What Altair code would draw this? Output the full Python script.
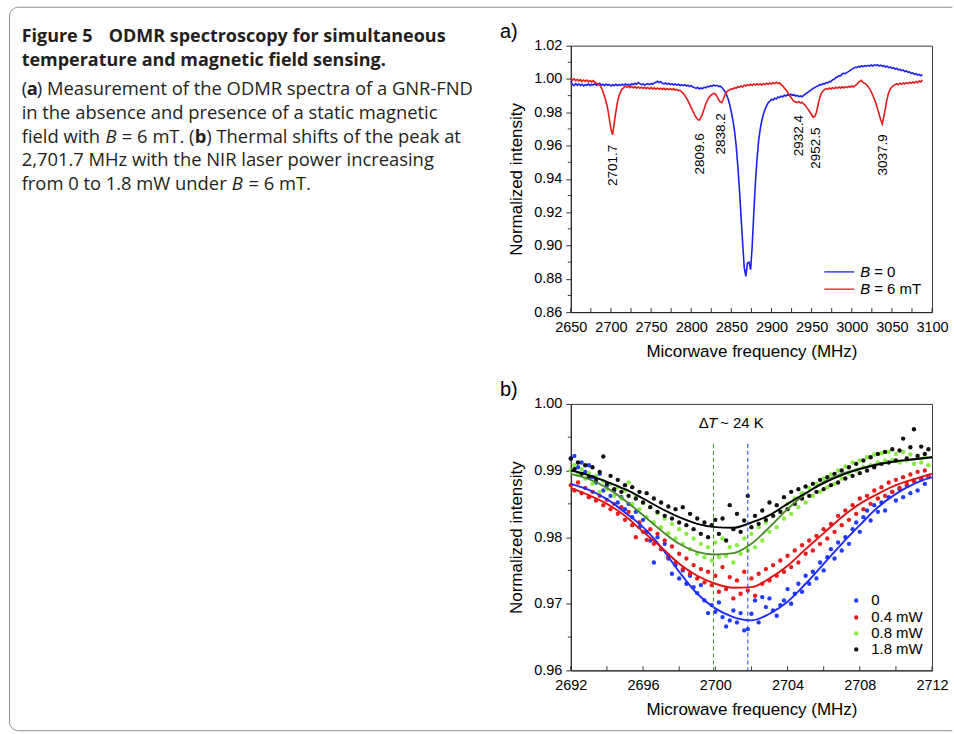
import altair as alt
import pandas as pd

# ---------------- panel a data ----------------
freq_a = [
    2650, 2652, 2654, 2656, 2658, 2660, 2662, 2664, 2666, 2668,
    2670, 2672, 2674, 2676, 2678, 2680, 2682, 2684, 2686, 2688,
    2690, 2692, 2694, 2696, 2698, 2700, 2702, 2704, 2706, 2708,
    2710, 2712, 2714, 2716, 2718, 2720, 2722, 2724, 2726, 2728,
    2730, 2732, 2734, 2736, 2738, 2740, 2742, 2744, 2746, 2748,
    2750, 2752, 2754, 2756, 2758, 2760, 2762, 2764, 2766, 2768,
    2770, 2772, 2774, 2776, 2778, 2780, 2782, 2784, 2786, 2788,
    2790, 2792, 2794, 2796, 2798, 2800, 2802, 2804, 2806, 2808,
    2810, 2812, 2814, 2816, 2818, 2820, 2822, 2824, 2826, 2828,
    2830, 2832, 2834, 2836, 2838, 2840, 2842, 2844, 2846, 2848,
    2850, 2852, 2854, 2856, 2858, 2860, 2862, 2864, 2866, 2868,
    2870, 2872, 2874, 2876, 2878, 2880, 2882, 2884, 2886, 2888,
    2890, 2892, 2894, 2896, 2898, 2900, 2902, 2904, 2906, 2908,
    2910, 2912, 2914, 2916, 2918, 2920, 2922, 2924, 2926, 2928,
    2930, 2932, 2934, 2936, 2938, 2940, 2942, 2944, 2946, 2948,
    2950, 2952, 2954, 2956, 2958, 2960, 2962, 2964, 2966, 2968,
    2970, 2972, 2974, 2976, 2978, 2980, 2982, 2984, 2986, 2988,
    2990, 2992, 2994, 2996, 2998, 3000, 3002, 3004, 3006, 3008,
    3010, 3012, 3014, 3016, 3018, 3020, 3022, 3024, 3026, 3028,
    3030, 3032, 3034, 3036, 3038, 3040, 3042, 3044, 3046, 3048,
    3050, 3052, 3054, 3056, 3058, 3060, 3062, 3064, 3066, 3068,
    3070, 3072, 3074, 3076, 3078, 3080, 3082, 3084, 3086, 3088,
]
b_zero = [
    0.9985, 0.9968, 0.9960, 0.9972, 0.9963, 0.9970, 0.9961, 0.9968, 0.9958, 0.9966,
    0.9962, 0.9971, 0.9960, 0.9968, 0.9963, 0.9972, 0.9962, 0.9966, 0.9974, 0.9963,
    0.9968, 0.9960, 0.9970, 0.9962, 0.9967, 0.9958, 0.9965, 0.9960, 0.9968, 0.9961,
    0.9966, 0.9962, 0.9969, 0.9963, 0.9970, 0.9964, 0.9968, 0.9962, 0.9971, 0.9966,
    0.9974, 0.9968, 0.9978, 0.9972, 0.9966, 0.9970, 0.9963, 0.9968, 0.9972, 0.9966,
    0.9973, 0.9968, 0.9976, 0.9980, 0.9986, 0.9978, 0.9984, 0.9974, 0.9970, 0.9976,
    0.9968, 0.9974, 0.9966, 0.9972, 0.9964, 0.9970, 0.9963, 0.9968, 0.9961, 0.9966,
    0.9960, 0.9965, 0.9958, 0.9963, 0.9955, 0.9960, 0.9952, 0.9948, 0.9944, 0.9950,
    0.9940, 0.9946, 0.9942, 0.9950, 0.9947, 0.9955, 0.9952, 0.9960, 0.9956, 0.9964,
    0.9958, 0.9962, 0.9955, 0.9957, 0.9950, 0.9938, 0.9925, 0.9905, 0.9880, 0.9845,
    0.9800, 0.9750, 0.9685, 0.9600, 0.9480, 0.9340, 0.9180, 0.9020, 0.8870, 0.8815,
    0.8895, 0.8900, 0.8855, 0.9000, 0.9200, 0.9380, 0.9520, 0.9630, 0.9700, 0.9752,
    0.9790, 0.9818, 0.9840, 0.9858, 0.9866, 0.9878, 0.9874, 0.9885, 0.9880, 0.9892,
    0.9888, 0.9897, 0.9893, 0.9902, 0.9898, 0.9906, 0.9901, 0.9908, 0.9902, 0.9906,
    0.9898, 0.9902, 0.9894, 0.9898, 0.9893, 0.9902, 0.9908, 0.9916, 0.9922, 0.9930,
    0.9936, 0.9944, 0.9948, 0.9955, 0.9958, 0.9966, 0.9964, 0.9972, 0.9970, 0.9978,
    0.9976, 0.9985, 0.9984, 0.9994, 0.9998, 1.0008, 1.0012, 1.0020, 1.0018, 1.0030,
    1.0034, 1.0032, 1.0040, 1.0044, 1.0052, 1.0058, 1.0064, 1.0070, 1.0068, 1.0076,
    1.0072, 1.0078, 1.0074, 1.0080, 1.0076, 1.0082, 1.0077, 1.0084, 1.0078, 1.0085,
    1.0080, 1.0086, 1.0078, 1.0083, 1.0076, 1.0080, 1.0072, 1.0077, 1.0068, 1.0072,
    1.0064, 1.0068, 1.0060, 1.0063, 1.0055, 1.0058, 1.0050, 1.0054, 1.0045, 1.0048,
    1.0040, 1.0043, 1.0034, 1.0037, 1.0028, 1.0032, 1.0024, 1.0028, 1.0020, 1.0026,
]
b_six = [
    1.0005, 0.9992, 1.0002, 0.9990, 0.9998, 0.9988, 0.9996, 0.9986, 0.9994, 0.9985,
    0.9993, 0.9984, 0.9990, 0.9982, 0.9990, 0.9980, 0.9975, 0.9970, 0.9962, 0.9948,
    0.9925, 0.9895, 0.9862, 0.9822, 0.9760, 0.9700, 0.9665, 0.9730, 0.9800, 0.9858,
    0.9900, 0.9922, 0.9940, 0.9948, 0.9958, 0.9950, 0.9957, 0.9948, 0.9955, 0.9946,
    0.9954, 0.9945, 0.9952, 0.9944, 0.9951, 0.9943, 0.9950, 0.9942, 0.9949, 0.9940,
    0.9948, 0.9940, 0.9947, 0.9938, 0.9946, 0.9938, 0.9945, 0.9937, 0.9944, 0.9936,
    0.9943, 0.9936, 0.9942, 0.9935, 0.9941, 0.9934, 0.9938, 0.9930, 0.9932, 0.9922,
    0.9915, 0.9900, 0.9886, 0.9868, 0.9848, 0.9828, 0.9808, 0.9788, 0.9770, 0.9757,
    0.9752, 0.9768, 0.9790, 0.9820, 0.9848, 0.9870, 0.9888, 0.9900, 0.9908, 0.9914,
    0.9910, 0.9896, 0.9878, 0.9862, 0.9858, 0.9880, 0.9905, 0.9920, 0.9930, 0.9935,
    0.9942, 0.9938, 0.9948, 0.9944, 0.9954, 0.9950, 0.9958, 0.9952, 0.9962, 0.9958,
    0.9966, 0.9960, 0.9968, 0.9962, 0.9970, 0.9964, 0.9972, 0.9965, 0.9970, 0.9964,
    0.9972, 0.9966, 0.9974, 0.9968, 0.9976, 0.9970, 0.9978, 0.9972, 0.9980, 0.9974,
    0.9976, 0.9966, 0.9958, 0.9946, 0.9935, 0.9922, 0.9906, 0.9890, 0.9878, 0.9866,
    0.9862, 0.9858, 0.9864, 0.9856, 0.9860, 0.9850, 0.9842, 0.9828, 0.9815, 0.9800,
    0.9785, 0.9770, 0.9775, 0.9800, 0.9845, 0.9885, 0.9912, 0.9928, 0.9936, 0.9942,
    0.9938, 0.9946, 0.9940, 0.9948, 0.9942, 0.9950, 0.9944, 0.9952, 0.9945, 0.9953,
    0.9946, 0.9954, 0.9948, 0.9955, 0.9950, 0.9958, 0.9952, 0.9960, 0.9966, 0.9978,
    0.9985, 0.9992, 0.9980, 0.9974, 0.9968, 0.9956, 0.9942, 0.9925, 0.9905, 0.9880,
    0.9855, 0.9822, 0.9790, 0.9755, 0.9730, 0.9775, 0.9830, 0.9880, 0.9918, 0.9940,
    0.9952, 0.9960, 0.9966, 0.9972, 0.9966, 0.9975, 0.9968, 0.9976, 0.9970, 0.9978,
    0.9972, 0.9980, 0.9974, 0.9982, 0.9976, 0.9985, 0.9978, 0.9988, 0.9982, 0.9994,
]
peak_labels = ["2701.7", "2809.6", "2838.2", "2932.4", "2952.5", "3037.9"]
peak_label_f = [2702.0, 2811.0, 2837.5, 2934.5, 2955.0, 3039.0]
peak_label_top = [0.9605, 0.9674, 0.9794, 0.9784, 0.9708, 0.9668]
legend_a_labels = ["= 0", "= 6 mT"]

xa_labels = [2650, 2700, 2750, 2800, 2850, 2900, 2950, 3000, 3050, 3100]
xa_ticks = [2650, 2675, 2700, 2725, 2750, 2775, 2800, 2825, 2850, 2875, 2900,
            2925, 2950, 2975, 3000, 3025, 3050, 3075, 3100]
ya_labels = [0.86, 0.88, 0.90, 0.92, 0.94, 0.96, 0.98, 1.00, 1.02]
ya_minor = [0.87, 0.89, 0.91, 0.93, 0.95, 0.97, 0.99, 1.01]

# ---------------- panel b data ----------------
freq_b = [
    2692.0, 2692.2, 2692.4, 2692.6, 2692.8, 2693.0, 2693.2, 2693.4, 2693.6, 2693.8,
    2694.0, 2694.2, 2694.4, 2694.6, 2694.8, 2695.0, 2695.2, 2695.4, 2695.6, 2695.8,
    2696.0, 2696.2, 2696.4, 2696.6, 2696.8, 2697.0, 2697.2, 2697.4, 2697.6, 2697.8,
    2698.0, 2698.2, 2698.4, 2698.6, 2698.8, 2699.0, 2699.2, 2699.4, 2699.6, 2699.8,
    2700.0, 2700.2, 2700.4, 2700.6, 2700.8, 2701.0, 2701.2, 2701.4, 2701.6, 2701.8,
    2702.0, 2702.2, 2702.4, 2702.6, 2702.8, 2703.0, 2703.2, 2703.4, 2703.6, 2703.8,
    2704.0, 2704.2, 2704.4, 2704.6, 2704.8, 2705.0, 2705.2, 2705.4, 2705.6, 2705.8,
    2706.0, 2706.2, 2706.4, 2706.6, 2706.8, 2707.0, 2707.2, 2707.4, 2707.6, 2707.8,
    2708.0, 2708.2, 2708.4, 2708.6, 2708.8, 2709.0, 2709.2, 2709.4, 2709.6, 2709.8,
    2710.0, 2710.2, 2710.4, 2710.6, 2710.8, 2711.0, 2711.2, 2711.4, 2711.6, 2711.8,
]
p_0 = [
    0.9918, 0.9922, 0.9905, 0.9912, 0.9898, 0.9908, 0.9890, 0.9882, 0.9895, 0.9870,
    0.9878, 0.9862, 0.9870, 0.9852, 0.9860, 0.9842, 0.9850, 0.9830, 0.9838, 0.9815,
    0.9826, 0.9808, 0.9795, 0.9762, 0.9800, 0.9782, 0.9790, 0.9768, 0.9745, 0.9758,
    0.9738, 0.9750, 0.9730, 0.9742, 0.9725, 0.9716, 0.9728, 0.9705, 0.9686, 0.9698,
    0.9688, 0.9702, 0.9680, 0.9666, 0.9675, 0.9690, 0.9672, 0.9686, 0.9660, 0.9662,
    0.9685, 0.9705, 0.9672, 0.9710, 0.9695, 0.9708, 0.9690, 0.9682, 0.9698, 0.9705,
    0.9722, 0.9700, 0.9715, 0.9730, 0.9718, 0.9742, 0.9730, 0.9748, 0.9738, 0.9762,
    0.9750, 0.9770, 0.9782, 0.9768, 0.9792, 0.9780, 0.9800, 0.9790, 0.9812, 0.9822,
    0.9808, 0.9830, 0.9840, 0.9825, 0.9848, 0.9838, 0.9852, 0.9840, 0.9860, 0.9868,
    0.9855, 0.9872, 0.9860, 0.9878, 0.9866, 0.9885, 0.9870, 0.9888, 0.9880, 0.9892,
]
p_04 = [
    0.9878, 0.9870, 0.9882, 0.9866, 0.9874, 0.9860, 0.9868, 0.9855, 0.9862, 0.9848,
    0.9856, 0.9842, 0.9850, 0.9835, 0.9845, 0.9826, 0.9838, 0.9818, 0.9800, 0.9822,
    0.9808, 0.9796, 0.9812, 0.9790, 0.9805, 0.9782, 0.9795, 0.9770, 0.9786, 0.9762,
    0.9775, 0.9752, 0.9768, 0.9745, 0.9758, 0.9738, 0.9752, 0.9732, 0.9748, 0.9728,
    0.9742, 0.9718, 0.9755, 0.9722, 0.9740, 0.9708, 0.9735, 0.9715, 0.9748, 0.9720,
    0.9738, 0.9712, 0.9745, 0.9730, 0.9752, 0.9735, 0.9758, 0.9742, 0.9765, 0.9748,
    0.9772, 0.9755, 0.9780, 0.9762, 0.9788, 0.9775, 0.9795, 0.9780, 0.9802, 0.9790,
    0.9812, 0.9798, 0.9820, 0.9808, 0.9832, 0.9818, 0.9840, 0.9826, 0.9848, 0.9835,
    0.9858, 0.9842, 0.9862, 0.9850, 0.9870, 0.9858, 0.9875, 0.9862, 0.9882, 0.9868,
    0.9886, 0.9874, 0.9890, 0.9880, 0.9894, 0.9884, 0.9898, 0.9886, 0.9900, 0.9890,
]
p_08 = [
    0.9900, 0.9908, 0.9894, 0.9902, 0.9888, 0.9896, 0.9880, 0.9892, 0.9868, 0.9884,
    0.9872, 0.9880, 0.9862, 0.9875, 0.9858, 0.9870, 0.9882, 0.9850, 0.9862, 0.9842,
    0.9852, 0.9830, 0.9845, 0.9822, 0.9836, 0.9815, 0.9828, 0.9806, 0.9820, 0.9798,
    0.9812, 0.9790, 0.9805, 0.9782, 0.9798, 0.9775, 0.9790, 0.9770, 0.9785, 0.9765,
    0.9792, 0.9770, 0.9798, 0.9772, 0.9785, 0.9762, 0.9788, 0.9775, 0.9798, 0.9780,
    0.9805, 0.9785, 0.9815, 0.9795, 0.9822, 0.9808, 0.9832, 0.9815, 0.9840, 0.9828,
    0.9850, 0.9835, 0.9858, 0.9845, 0.9866, 0.9852, 0.9874, 0.9862, 0.9880, 0.9868,
    0.9888, 0.9875, 0.9894, 0.9880, 0.9900, 0.9888, 0.9906, 0.9895, 0.9912, 0.9900,
    0.9915, 0.9905, 0.9920, 0.9908, 0.9924, 0.9912, 0.9926, 0.9915, 0.9928, 0.9916,
    0.9925, 0.9912, 0.9928, 0.9915, 0.9924, 0.9910, 0.9922, 0.9912, 0.9920, 0.9908,
]
p_18 = [
    0.9918, 0.9902, 0.9912, 0.9895, 0.9908, 0.9890, 0.9905, 0.9886, 0.9898, 0.9921,
    0.9880, 0.9892, 0.9872, 0.9886, 0.9868, 0.9878, 0.9862, 0.9875, 0.9858, 0.9868,
    0.9852, 0.9866, 0.9845, 0.9858, 0.9838, 0.9852, 0.9832, 0.9846, 0.9828, 0.9842,
    0.9822, 0.9845, 0.9818, 0.9835, 0.9812, 0.9828, 0.9805, 0.9822, 0.9800, 0.9818,
    0.9826, 0.9805, 0.9828, 0.9795, 0.9848, 0.9812, 0.9835, 0.9808, 0.9825, 0.9862,
    0.9815, 0.9832, 0.9820, 0.9840, 0.9826, 0.9852, 0.9832, 0.9848, 0.9838, 0.9860,
    0.9842, 0.9868, 0.9850, 0.9872, 0.9858, 0.9876, 0.9862, 0.9880, 0.9868, 0.9886,
    0.9872, 0.9890, 0.9878, 0.9895, 0.9882, 0.9900, 0.9888, 0.9905, 0.9892, 0.9910,
    0.9896, 0.9915, 0.9900, 0.9920, 0.9905, 0.9925, 0.9910, 0.9928, 0.9912, 0.9932,
    0.9915, 0.9930, 0.9948, 0.9918, 0.9935, 0.9962, 0.9922, 0.9936, 0.9925, 0.9932,
]
fit_f = [2692, 2693, 2694, 2695, 2696, 2697, 2698, 2699, 2700, 2701, 2702,
         2703, 2704, 2705, 2706, 2707, 2708, 2709, 2710, 2711, 2712]
fit_0 = [0.9880, 0.9871, 0.9857, 0.9837, 0.9815, 0.9785, 0.9748, 0.9715, 0.9693, 0.9680, 0.9675,
         0.9685, 0.9703, 0.9730, 0.9760, 0.9790, 0.9818, 0.9845, 0.9865, 0.9880, 0.9890]
fit_04 = [0.9874, 0.9863, 0.9850, 0.9832, 0.9808, 0.9785, 0.9760, 0.9742, 0.9730, 0.9724, 0.9725,
          0.9738, 0.9757, 0.9782, 0.9806, 0.9830, 0.9850, 0.9865, 0.9878, 0.9887, 0.9895]
fit_08 = [0.9895, 0.9887, 0.9874, 0.9855, 0.9833, 0.9810, 0.9790, 0.9778, 0.9774, 0.9776, 0.9790,
          0.9815, 0.9842, 0.9865, 0.9883, 0.9895, 0.9903, 0.9910, 0.9914, 0.9917, 0.9920]
fit_18 = [0.9900, 0.9893, 0.9883, 0.9872, 0.9858, 0.9843, 0.9830, 0.9820, 0.9815, 0.9814, 0.9822,
          0.9833, 0.9850, 0.9866, 0.9881, 0.9893, 0.9902, 0.9909, 0.9914, 0.9917, 0.9920]
dash_f = [2699.9, 2701.8]
dash_top = [0.994, 0.994]
legend_b_labels = ["0", "0.4 mW", "0.8 mW", "1.8 mW"]

xb_labels = [2692, 2696, 2700, 2704, 2708, 2712]
xb_ticks = [2692, 2694, 2696, 2698, 2700, 2702, 2704, 2706, 2708, 2710, 2712]
yb_labels = [0.96, 0.97, 0.98, 0.99, 1.00]
yb_minor = [0.965, 0.975, 0.985, 0.995]

# ---------------- caption text ----------------
caption = [
    ("Figure 5", "bold"),
    ("ODMR spectroscopy for simultaneous", "bold"),
    ("temperature and magnetic field sensing.", "bold"),
    ("(", "normal"), ("a", "bold"), (") Measurement of the ODMR spectra of a GNR-FND", "normal"),
    ("in the absence and presence of a static magnetic", "normal"),
    ("field with", "normal"), ("B", "italic"), ("= 6 mT. (", "normal"), ("b", "bold"),
    (") Thermal shifts of the peak at", "normal"),
    ("2,701.7 MHz with the NIR laser power increasing", "normal"),
    ("from 0 to 1.8 mW under", "normal"), ("B", "italic"), ("= 6 mT.", "normal"),
]
# absolute page positions (layout) of each caption piece
caption_pos = [
    (20.7, 40.0), (108.0, 40.0),
    (20.7, 64.0),
    (20.7, 93.5), (25.7, 93.5), (35.9, 93.5),
    (20.7, 117.3),
    (20.7, 141.1), (104.7, 141.1), (121.1, 141.1), (194.1, 141.1), (205.7, 141.1),
    (20.7, 164.9),
    (20.7, 188.7), (231.2, 188.7), (247.9, 188.7),
]

# ---------------- layout constants ----------------
W, H = 362, 267
OXA, OYA = 571, 44      # panel a plot origin on the page
OXB, OYB = 571, 403     # panel b plot origin on the page
FONT = "Liberation Sans"
CAP_FONT = "Open Sans"
CAP_SIZE = 18.4
CAP_BOLD_SIZE = 18
BLUE = "#1f1ff2"
RED = "#e21b1b"
LAB = 14.5
TIT = 17


def one():
    return pd.DataFrame({"k": [0]})


def text_at(s, x, y, size=15, weight="normal", style="normal", font=FONT,
            color="#000000", align="left", baseline="middle"):
    return alt.Chart(pd.DataFrame({"t": [s]})).mark_text(
        align=align, baseline=baseline, font=font, fontSize=size,
        fontWeight=weight, fontStyle=style, color=color).encode(
        text="t:N", x=alt.value(x), y=alt.value(y))


def x_axis(vals, title):
    return alt.Axis(values=vals, title=title, ticks=False, tickSize=0, labelPadding=8,
                    titlePadding=10, labelFlush=False, format="d", labelOverlap=False,
                    labelFontSize=LAB, titleFontSize=TIT, labelFont=FONT, titleFont=FONT)


def y_axis(vals, title):
    return alt.Axis(values=vals, title=title, format=".2f", tickSize=5, labelPadding=4,
                    titlePadding=8, labelFlush=False, labelOverlap=False,
                    labelFontSize=LAB, titleFontSize=TIT, labelFont=FONT, titleFont=FONT)


# ================= panel a =================
xa = alt.X("f:Q", scale=alt.Scale(domain=[2650, 3100], nice=False, zero=False),
           axis=x_axis(xa_labels, "Micorwave frequency (MHz)"))
ya = alt.Y("v:Q", scale=alt.Scale(domain=[0.86, 1.02], nice=False, zero=False),
           axis=y_axis(ya_labels, "Normalized intensity"))

box = alt.Chart(one()).mark_rect(fillOpacity=0, stroke="#8e8e8e", strokeWidth=1,
                                 cornerRadiusTopLeft=9, cornerRadiusBottomLeft=9).encode(
    x=alt.value(8.5 - OXA), x2=alt.value(953 - OXA),
    y=alt.value(5.5 - OYA), y2=alt.value(730.5 - OYA))
cover = alt.Chart(one()).mark_rect(color="white").encode(
    x=alt.value(950.5 - OXA), x2=alt.value(954 - OXA),
    y=alt.value(6.2 - OYA), y2=alt.value(729.8 - OYA))

cap_layers = []
for (s, kind), (px, py) in zip(caption, caption_pos):
    cap_layers.append(text_at(
        s, px - OXA, py - OYA,
        size=CAP_BOLD_SIZE if (kind == "bold" and py < 70) else CAP_SIZE,
        font=CAP_FONT,
        weight="bold" if kind == "bold" else "normal",
        style="italic" if kind == "italic" else "normal",
        color="#231f20", baseline="alphabetic"))

ticks_xa = alt.Chart(pd.DataFrame({"f": xa_ticks})).mark_rule(color="#333", strokeWidth=1).encode(
    x=xa, y=alt.value(H), y2=alt.value(H - 4))
minor_ya = alt.Chart(pd.DataFrame({"v": ya_minor})).mark_rule(color="#333", strokeWidth=1).encode(
    y=ya, x=alt.value(-3), x2=alt.value(0))

line_b0 = alt.Chart(pd.DataFrame({"f": freq_a, "v": b_zero})).mark_line(
    color=BLUE, strokeWidth=1.6).encode(x=xa, y=ya)
line_b6 = alt.Chart(pd.DataFrame({"f": freq_a, "v": b_six})).mark_line(
    color=RED, strokeWidth=1.6).encode(x=xa, y=ya)

df_peaks = pd.DataFrame({"f": peak_label_f, "v": peak_label_top, "t": peak_labels})
peaks = alt.Chart(df_peaks).mark_text(angle=270, align="right", baseline="middle",
                                      font=FONT, fontSize=13.5, color="#000").encode(
    x=xa, y=ya, text="t:N")

leg_a = [
    alt.Chart(one()).mark_rule(color=BLUE, strokeWidth=1.3).encode(
        x=alt.value(254), x2=alt.value(284), y=alt.value(226.7)),
    alt.Chart(one()).mark_rule(color=RED, strokeWidth=1.3).encode(
        x=alt.value(254), x2=alt.value(284), y=alt.value(244)),
    text_at("B", 290, 226.7, style="italic"),
    text_at(legend_a_labels[0], 304, 226.7),
    text_at("B", 290, 244, style="italic"),
    text_at(legend_a_labels[1], 304, 244),
]
tag_a = text_at("a)", -71, -8, size=20, baseline="alphabetic")

panel_a = alt.layer(
    box, cover, *cap_layers, ticks_xa, minor_ya, line_b0, line_b6, peaks, *leg_a, tag_a
).properties(width=W, height=H)

# ================= panel b =================
xb = alt.X("f:Q", scale=alt.Scale(domain=[2692, 2712], nice=False, zero=False),
           axis=x_axis(xb_labels, "Microwave frequency (MHz)"))
yb = alt.Y("v:Q", scale=alt.Scale(domain=[0.96, 1.00], nice=False, zero=False),
           axis=y_axis(yb_labels, "Normalized intensity"))

ticks_xb = alt.Chart(pd.DataFrame({"f": xb_ticks})).mark_rule(color="#333", strokeWidth=1).encode(
    x=xb, y=alt.value(H), y2=alt.value(H - 4))
minor_yb = alt.Chart(pd.DataFrame({"v": yb_minor})).mark_rule(color="#333", strokeWidth=1).encode(
    y=yb, x=alt.value(-3), x2=alt.value(0))

PT_COLORS = ["#1f3cff", "#e81c1c", "#86ee3e", "#111111"]
FIT_COLORS = ["#1f2cff", "#e01212", "#4b8a2c", "#000000"]
series_vals = [p_0, p_04, p_08, p_18]
fit_vals = [fit_0, fit_04, fit_08, fit_18]

pts = [alt.Chart(pd.DataFrame({"f": freq_b, "v": vals})).mark_circle(
    size=19, opacity=1, color=c).encode(x=xb, y=yb)
    for vals, c in zip(series_vals, PT_COLORS)]
fits = [alt.Chart(pd.DataFrame({"f": fit_f, "v": vals})).mark_line(
    color=c, strokeWidth=1.9, interpolate="monotone").encode(x=xb, y=yb)
    for vals, c in zip(fit_vals, FIT_COLORS)]

dashes = [
    alt.Chart(pd.DataFrame({"f": [dash_f[0]], "v": [dash_top[0]]})).mark_rule(
        color="#4b8a2c", strokeWidth=1, strokeDash=[4, 3]).encode(
        x=xb, y=yb, y2=alt.value(H)),
    alt.Chart(pd.DataFrame({"f": [dash_f[1]], "v": [dash_top[1]]})).mark_rule(
        color="#1f3cff", strokeWidth=1, strokeDash=[4, 3]).encode(
        x=xb, y=yb, y2=alt.value(H)),
]

annot = [
    text_at("\u0394", 128.3, 18.7),
    text_at("T", 137.6, 18.7, style="italic"),
    text_at("~ 24 K", 149.5, 18.7),
]

leg_y = [197, 214, 230, 246]
leg_b = []
for lab, c, yy in zip(legend_b_labels, PT_COLORS, leg_y):
    leg_b.append(alt.Chart(one()).mark_circle(size=19, opacity=1, color=c).encode(
        x=alt.value(286), y=alt.value(yy)))
    leg_b.append(text_at(lab, 301, yy))

tag_b = text_at("b)", -71, -8, size=20, baseline="alphabetic")

panel_b = alt.layer(
    ticks_xb, minor_yb, *pts, *fits, *dashes, *annot, *leg_b, tag_b
).properties(width=W, height=H)

chart = alt.vconcat(panel_a, panel_b, spacing=OYB - OYA - H, bounds="flush").properties(
    padding={"left": 8, "top": 5, "right": 0, "bottom": 0},
    background="white",
).configure_view(
    stroke="#3a3a3a", strokeWidth=1
).configure_axis(
    domainColor="#222222", tickColor="#333333", labelColor="#000000", titleColor="#000000",
    labelFont=FONT, titleFont=FONT, labelFontSize=LAB, titleFontSize=TIT,
    titleFontWeight="normal", grid=False
)

chart.save("out.html", embed_options={"renderer": "svg", "actions": False})
